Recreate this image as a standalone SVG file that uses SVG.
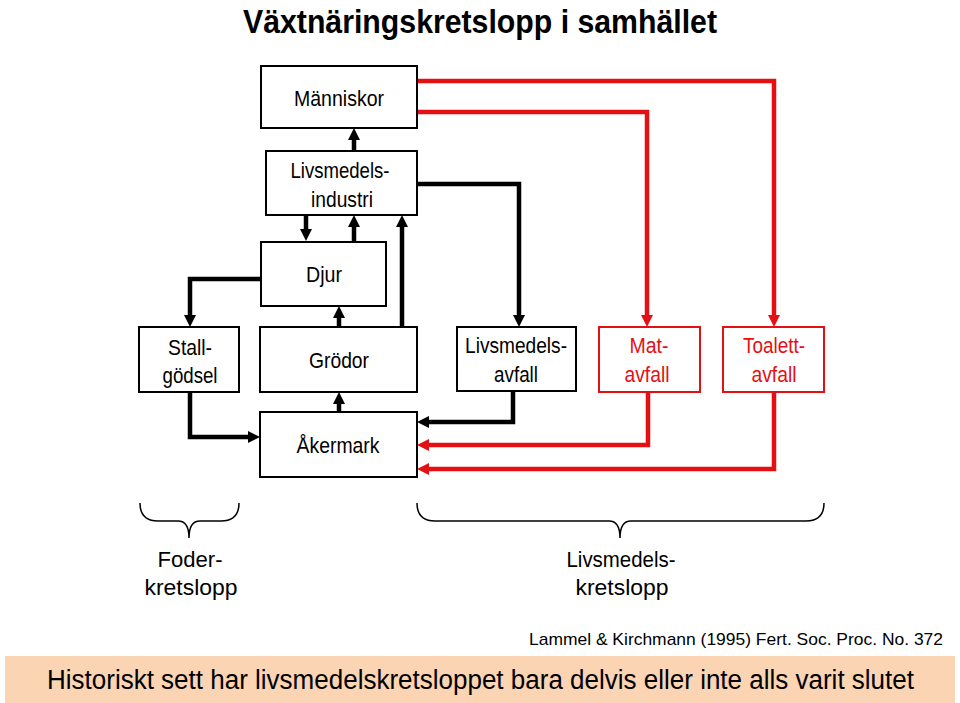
<svg xmlns="http://www.w3.org/2000/svg" width="960" height="703" viewBox="0 0 960 703">
<style>
.box{fill:#fff;stroke:#000;stroke-width:2}
.rbox{fill:#fff;stroke:#e41014;stroke-width:2}
.t{font-family:"Liberation Sans","Liberation Sans Narrow",Arial,sans-serif;font-size:22px;fill:#000;text-anchor:middle}
.rt{fill:#e41014}
.c{fill:none;stroke:#000;stroke-width:4.5;marker-end:url(#ab)}
.rc{fill:none;stroke:#e41014;stroke-width:4.5;marker-end:url(#ar)}
.br{fill:none;stroke:#000;stroke-width:1.5}
</style>
<defs>
<marker id="ab" markerUnits="userSpaceOnUse" markerWidth="14" markerHeight="14" refX="4" refY="6" orient="auto"><path d="M0,0 L12,6 L0,12 z" fill="#000"/></marker>
<marker id="ar" markerUnits="userSpaceOnUse" markerWidth="14" markerHeight="14" refX="4" refY="6" orient="auto"><path d="M0,0 L12,6 L0,12 z" fill="#e41014"/></marker>
</defs>
<rect width="960" height="703" fill="#fff"/>
<text x="480" y="33" font-family="'Liberation Sans Narrow','Liberation Sans',Arial,sans-serif" font-weight="bold" font-size="34" text-anchor="middle" textLength="474" lengthAdjust="spacingAndGlyphs">Växtnäringskretslopp i samhället</text>

<g id="connectors">
<path class="c" d="M354,151 V136"/>
<path class="c" d="M306,215 V233"/>
<path class="c" d="M354,242 V223"/>
<path class="c" d="M402,327 V223"/>
<path class="c" d="M417,184 H519 V319"/>
<path class="rc" d="M417,81 H774 V319"/>
<path class="rc" d="M417,112 H647 V319"/>
<path class="c" d="M261,279 H190 V319"/>
<path class="c" d="M190,392 V437 H252"/>
<path class="c" d="M339,412 V400"/>
<path class="c" d="M339,327 V314"/>
<path class="c" d="M513,391 V422 H425"/>
<path class="rc" d="M648,392 V445 H425"/>
<path class="rc" d="M774,392 V469 H425"/>
</g>

<g id="manniskor"><rect class="box" x="261" y="66" width="156" height="62"/><text class="t" x="339" y="106" textLength="90" lengthAdjust="spacingAndGlyphs">Människor</text></g>
<g id="livsmedelsindustri"><rect class="box" x="266" y="151" width="151" height="64"/><text class="t" x="340" y="178" textLength="99" lengthAdjust="spacingAndGlyphs">Livsmedels-</text><text class="t" x="342" y="207" textLength="62" lengthAdjust="spacingAndGlyphs">industri</text></g>
<g id="djur"><rect class="box" x="261" y="242" width="125" height="64"/><text class="t" x="324" y="282" textLength="36" lengthAdjust="spacingAndGlyphs">Djur</text></g>
<g id="stallgodsel"><rect class="box" x="139" y="327" width="100" height="65"/><text class="t" x="190" y="355" textLength="44" lengthAdjust="spacingAndGlyphs">Stall-</text><text class="t" x="190" y="383" textLength="55" lengthAdjust="spacingAndGlyphs">gödsel</text></g>
<g id="grodor"><rect class="box" x="260" y="327" width="157" height="65"/><text class="t" x="339" y="368" textLength="60" lengthAdjust="spacingAndGlyphs">Grödor</text></g>
<g id="akermark"><rect class="box" x="260" y="412" width="157" height="65"/><text class="t" x="338" y="453" textLength="83" lengthAdjust="spacingAndGlyphs">Åkermark</text></g>
<g id="livsmedelsavfall"><rect class="box" x="457" y="327" width="119" height="64"/><text class="t" x="516" y="353" textLength="102" lengthAdjust="spacingAndGlyphs">Livsmedels-</text><text class="t" x="516" y="382" textLength="44" lengthAdjust="spacingAndGlyphs">avfall</text></g>
<g id="matavfall"><rect class="rbox" x="599" y="327" width="101" height="65"/><text class="t rt" x="649" y="353" textLength="39" lengthAdjust="spacingAndGlyphs">Mat-</text><text class="t rt" x="647" y="382" textLength="45" lengthAdjust="spacingAndGlyphs">avfall</text></g>
<g id="toalettavfall"><rect class="rbox" x="723" y="327" width="101" height="65"/><text class="t rt" x="774" y="353" textLength="62" lengthAdjust="spacingAndGlyphs">Toalett-</text><text class="t rt" x="774" y="382" textLength="45" lengthAdjust="spacingAndGlyphs">avfall</text></g>

<g id="foderkretslopp">
<path class="br" d="M140,503 Q140,521 158,521 H178 Q189,521 189,538 Q189,521 200,521 H221 Q239,521 239,503"/>
<text class="t" x="190" y="567" textLength="65" lengthAdjust="spacingAndGlyphs">Foder-</text>
<text class="t" x="191" y="595" textLength="93" lengthAdjust="spacingAndGlyphs">kretslopp</text>
</g>
<g id="livsmedelskretslopp">
<path class="br" d="M417,503 Q417,521 435,521 H609 Q620,521 620,538 Q620,521 631,521 H806 Q824,521 824,503"/>
<text class="t" x="621" y="567" textLength="109" lengthAdjust="spacingAndGlyphs">Livsmedels-</text>
<text class="t" x="622" y="595" textLength="93" lengthAdjust="spacingAndGlyphs">kretslopp</text>
</g>

<text x="943" y="645" font-family="'Liberation Sans','Liberation Sans Narrow',Arial,sans-serif" font-size="17" text-anchor="end" textLength="414" lengthAdjust="spacingAndGlyphs">Lammel &amp; Kirchmann  (1995) Fert. Soc. Proc. No. 372</text>
<g id="banner">
<rect x="5" y="656" width="950" height="47" fill="#fbd4b4"/>
<text x="47" y="689" font-family="'Liberation Sans',Arial,sans-serif" font-size="27" textLength="867" lengthAdjust="spacingAndGlyphs">Historiskt sett har livsmedelskretsloppet bara delvis eller inte alls varit slutet</text>
</g>
</svg>
